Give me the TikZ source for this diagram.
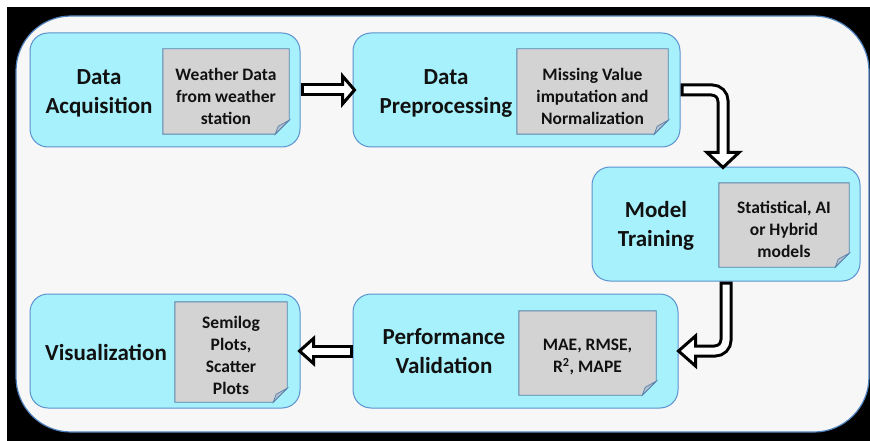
\documentclass[tikz,border=0pt]{standalone}
\usepackage{fontspec}
\setmainfont{Carlito}
\usetikzlibrary{calc}

\definecolor{framefill}{HTML}{F7F7F7}
\definecolor{frameedge}{HTML}{4F81BD}
\definecolor{stagefill}{HTML}{A6F1FB}
\definecolor{stageedge}{HTML}{5B93CF}
\definecolor{paperfill}{HTML}{D3D3D3}
\definecolor{paperedge}{HTML}{5A82AE}
\definecolor{foldfill}{HTML}{B3BFCC}
\definecolor{inktext}{HTML}{111111}

\tikzset{
  stagebox/.style={draw=stageedge, fill=stagefill, line width=1pt,
    rounded corners=18pt, inner sep=0pt},
  stagetitle/.style={align=center, text=inktext,
    font=\fontsize{23}{29}\selectfont\bfseries},
  notetext/.style={align=center, text=inktext,
    font=\fontsize{17.5}{22}\selectfont\bfseries},
  papershape/.style={fill=paperfill, draw=paperedge, line width=0.9pt},
  foldshape/.style={fill=foldfill, draw=paperedge, line width=0.7pt},
  ashell/.style={draw=black, line width=13pt},
  acore/.style={draw=white, line width=7pt},
  ahead/.style={fill=white, draw=black, line width=3pt, line join=miter},
}

% a note sheet with a curled bottom-right corner
\newcommand\paperat[4]{%
  \node[minimum width=#3, minimum height=#4, inner sep=0pt] (#1) at #2 {};
  \filldraw[papershape] (#1.north west) -- (#1.north east)
    -- ([yshift=14pt]#1.south east) -- ([xshift=-14pt]#1.south east)
    -- (#1.south west) -- cycle;
  \filldraw[foldshape] ([yshift=14pt]#1.south east)
    -- ([xshift=-14pt]#1.south east)
    -- ([xshift=-11pt,yshift=8pt]#1.south east) -- cycle;
}

\begin{document}
\begin{tikzpicture}[x=1pt, y=-1pt]
\useasboundingbox (0,0) rectangle (870,441);
\fill[white] (0,0) rectangle (870,441);
\fill[black] (7,7) rectangle (870,441);
\filldraw[fill=framefill, draw=frameedge, line width=1.2pt, rounded corners=55pt]
  (16,16) rectangle (869,432);

% stages
\node[stagebox, minimum width=270pt, minimum height=114pt] (b1) at (165,90) {};
\node[stagebox, minimum width=327pt, minimum height=114pt] (b2) at (516.5,90) {};
\node[stagebox, minimum width=268pt, minimum height=114pt] (b3) at (726,224) {};
\node[stagebox, minimum width=325pt, minimum height=114pt] (b4) at (515.5,351) {};
\node[stagebox, minimum width=270pt, minimum height=114pt] (b5) at (165,351) {};

\node[stagetitle] (t1) at (99,93) {Data\\Acquisition};
\node[stagetitle] (t2) at (446,93) {Data\\Preprocessing};
\node[stagetitle] (t3) at (656,226) {Model\\Training};
\node[stagetitle] (t4) at (444,351) {Performance\\Validation};
\node[stagetitle] (t5) at (106,352) {Visualization};

% note sheets
\paperat{p1}{(226,91.5)}{126pt}{85pt}
\paperat{p2}{(592.5,91.5)}{151pt}{85pt}
\paperat{p3}{(784,225)}{130pt}{84pt}
\paperat{p4}{(587.5,353)}{137pt}{84pt}
\paperat{p5}{(231,352)}{112pt}{100pt}

\node[notetext] (n1) at (226,96) {Weather Data\\from weather\\station};
\node[notetext] (n2) at (592.5,96) {Missing Value\\imputation and\\Normalization};
\node[notetext] (n3) at (784,229) {Statistical, AI\\or Hybrid\\models};
\node[notetext] (n4) at (587.5,357) {MAE, RMSE,\\R\textsuperscript{2}, MAPE};
\node[notetext] (n5) at (231,355) {Semilog\\Plots,\\Scatter\\Plots};

% hollow block arrows between the stages
% b1 -> b2
\draw[ashell] (b1.east) -- ($(b2.west)+(-10,0)$);
\filldraw[ahead] ($(b2.west)+(-10,-14)$) -- ($(b2.west)+(2,0)$)
  -- ($(b2.west)+(-10,14)$) -- cycle;
\draw[acore] ($(b1.east)+(3,0)$) -- ($(b2.west)+(-8,0)$);

% b2 -> b3
\draw[ashell, rounded corners=11pt] (b2.east) -| ($(b3.north)+(-3,-14)$);
\filldraw[ahead] ($(b3.north)+(-19,-14)$) -- ($(b3.north)+(-3,1)$)
  -- ($(b3.north)+(13,-14)$) -- cycle;
\draw[acore, rounded corners=11pt] ($(b2.east)+(3,0)$) -| ($(b3.north)+(-3,-12)$);

% b3 -> b4
\draw[ashell, rounded corners=11pt] (b3.south) |- ($(b4.east)+(17,0)$);
\filldraw[ahead] ($(b4.east)+(17,-15)$) -- (b4.east)
  -- ($(b4.east)+(17,15)$) -- cycle;
\draw[acore, rounded corners=11pt] ($(b3.south)+(0,3)$) |- ($(b4.east)+(15,0)$);

% b4 -> b5
\draw[ashell] (b4.west) -- ($(b5.east)+(13,0)$);
\filldraw[ahead] ($(b5.east)+(13,-12.5)$) -- ($(b5.east)+(-1,0)$)
  -- ($(b5.east)+(13,12.5)$) -- cycle;
\draw[acore] ($(b4.west)+(-3,0)$) -- ($(b5.east)+(11,0)$);
\end{tikzpicture}
\end{document}
